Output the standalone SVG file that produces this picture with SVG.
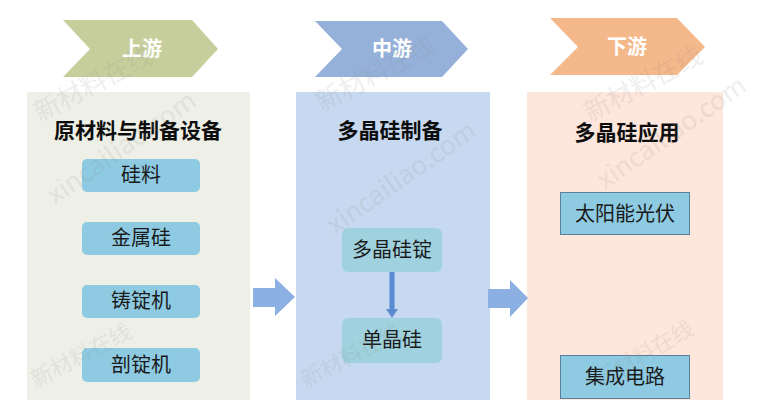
<svg xmlns="http://www.w3.org/2000/svg" width="762" height="400" viewBox="0 0 762 400">
  <style>
    .cjk { font-family: "Noto Sans CJK SC", "Noto Sans", sans-serif; }
    .stage { fill: #ffffff; font-size: 20px; font-weight: bold; text-anchor: middle; }
    .title { fill: #0d0d0d; font-size: 21px; font-weight: bold; text-anchor: middle; }
    .item { fill: #1a1a1a; font-size: 20px; text-anchor: middle; }
    .rbox { fill: #8ecbe2; }
    .mbox { fill: #9fd2de; }
    .sbox { fill: #8ecbe2; stroke: #5a7f98; stroke-width: 1; }
    .big { fill: #8db0e3; }
    .wm { fill: #8a8a8a; opacity: 0.13; font-family: "Noto Sans CJK SC", "Liberation Sans", sans-serif; }
  </style>
  <rect width="762" height="400" fill="#ffffff"/>

  <!-- Upstream -->
  <g id="upstream">
    <polygon points="63,20 192,20 218,49 192,77 63,77 90,49" fill="#c6cf9c"/>
    <text class="cjk stage" x="142" y="56">上游</text>
    <rect x="27" y="92" width="223" height="308" fill="#eef0e7"/>
    <text class="cjk title" x="138" y="138">原材料与制备设备</text>
  </g>
  <g id="n-silicon-material">
    <rect class="rbox" x="82" y="159" width="118" height="33" rx="5"/>
    <text class="cjk item" x="141" y="182">硅料</text>
  </g>
  <g id="n-metal-silicon">
    <rect class="rbox" x="82" y="222" width="118" height="33" rx="5"/>
    <text class="cjk item" x="141" y="245">金属硅</text>
  </g>
  <g id="n-casting">
    <rect class="rbox" x="82" y="285" width="118" height="33" rx="5"/>
    <text class="cjk item" x="141" y="308">铸锭机</text>
  </g>
  <g id="n-cutting">
    <rect class="rbox" x="82" y="348" width="118" height="34" rx="5"/>
    <text class="cjk item" x="141" y="372">剖锭机</text>
  </g>

  <!-- Midstream -->
  <g id="midstream">
    <polygon points="315,21 442,21 468,49 442,77 315,77 342,49" fill="#95b1da"/>
    <text class="cjk stage" x="392" y="56">中游</text>
    <rect x="296" y="92" width="194" height="308" fill="#c7d9f0"/>
    <text class="cjk title" x="390" y="138">多晶硅制备</text>
  </g>
  <g id="n-poly-ingot">
    <rect class="mbox" x="342" y="228" width="100" height="44" rx="6"/>
    <text class="cjk item" x="392" y="257">多晶硅锭</text>
  </g>
  <g id="n-mono">
    <rect class="mbox" x="342" y="318" width="100" height="45" rx="6"/>
    <text class="cjk item" x="392" y="347">单晶硅</text>
  </g>

  <!-- Downstream -->
  <g id="downstream">
    <polygon points="550,18 677,18 705,47 677,75 550,75 578,47" fill="#f5b88a"/>
    <text class="cjk stage" x="627" y="54">下游</text>
    <rect x="527" y="92" width="196" height="308" fill="#fde6db"/>
    <text class="cjk title" x="627" y="140">多晶硅应用</text>
  </g>
  <g id="n-pv">
    <rect class="sbox" x="560.5" y="192.5" width="129" height="42"/>
    <text class="cjk item" x="625" y="221">太阳能光伏</text>
  </g>
  <g id="n-ic">
    <rect class="sbox" x="560.5" y="355.5" width="129" height="43"/>
    <text class="cjk item" x="625" y="384">集成电路</text>
  </g>

  <!-- Connectors -->
  <g id="connectors">
    <polygon class="big" points="253,288 275,288 275,278 295,297 275,316 275,307 253,307"/>
    <polygon class="big" points="488,289 510,289 510,280 528,298 510,317 510,308 488,308"/>
    <polygon points="389.5,272 394.5,272 394.5,309 398,309 392,318 386,309 389.5,309" fill="#5b8bd0"/>
  </g>

  <!-- Watermarks -->
  <g id="watermarks">
    <text class="wm" x="40" y="122" font-size="26" transform="rotate(-28 40 122)">新材料在线</text>
    <text class="wm" x="55" y="205" font-size="26" transform="rotate(-35 55 205)">xincailiao.com</text>
    <text class="wm" x="322" y="112" font-size="26" transform="rotate(-28 322 112)">新材料在线</text>
    <text class="wm" x="335" y="235" font-size="26" transform="rotate(-35 335 235)">xincailiao.com</text>
    <text class="wm" x="590" y="122" font-size="26" transform="rotate(-28 590 122)">新材料在线</text>
    <text class="wm" x="605" y="190" font-size="26" transform="rotate(-35 605 190)">xincailiao.com</text>
    <text class="wm" x="36" y="388" font-size="22" transform="rotate(-28 36 388)">新材料在线</text>
    <text class="wm" x="306" y="388" font-size="22" transform="rotate(-28 306 388)">新材料在线</text>
    <text class="wm" x="600" y="388" font-size="22" transform="rotate(-30 600 388)">新材料在线</text>
  </g>
</svg>
